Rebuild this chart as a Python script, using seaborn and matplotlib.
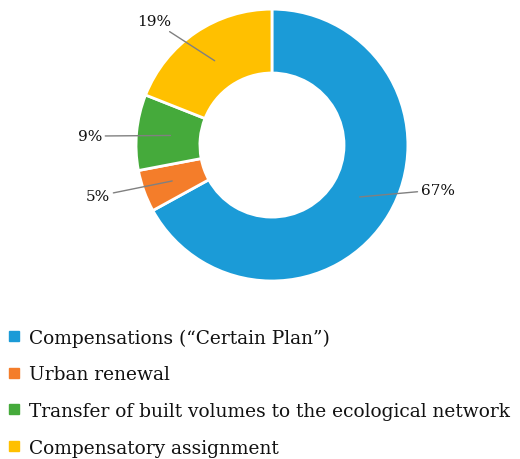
import matplotlib
matplotlib.use("Agg")
import matplotlib.pyplot as plt
from matplotlib.lines import Line2D
import seaborn as sns
import numpy as np

categories = ["Compensations (\u201cCertain Plan\u201d)", "Urban renewal",
              "Transfer of built volumes to the ecological network",
              "Compensatory assignment"]
shares = [67, 5, 9, 19]
colors = ["#1B9BD7", "#F47D2A", "#45AA3B", "#FFC000"]

sns.set_style("white")
plt.rcParams["font.family"] = ["DejaVu Serif"]

fig = plt.figure(figsize=(5.2, 4.6), dpi=100)
ax = fig.add_axes([0.2615, 0.387, 0.523, 0.591])

wedges, _ = ax.pie(shares, colors=colors, startangle=90, counterclock=False,
                   radius=1.0, wedgeprops=dict(width=0.47, edgecolor="white", linewidth=2))
ax.set_xlim(-1, 1)
ax.set_ylim(-1, 1)
ax.set_aspect("equal")
ax.axis("off")

# label offsets (text position in data units), per slice
text_pos = [(1.22, -0.33), (-1.28, -0.375), (-1.34, 0.066), (-0.87, 0.91)]
anchor_r = [0.75, 0.78, 0.75, 0.75]
for w, v, tp, r in zip(wedges, shares, text_pos, anchor_r):
    ang = np.deg2rad((w.theta1 + w.theta2) / 2)
    xy = (r * np.cos(ang), r * np.sin(ang))
    ax.annotate(f"{v}%", xy=xy, xytext=tp, ha="center", va="center",
                fontsize=11, color="#111111", annotation_clip=False,
                arrowprops=dict(arrowstyle="-", color="#808080", lw=1.0,
                                shrinkA=0, shrinkB=0))

handles = [Line2D([0], [0], marker="s", linestyle="none", markersize=6.5,
                  markerfacecolor=c, markeredgecolor=c) for c in colors]
fig.legend(handles, categories, loc="upper left", bbox_to_anchor=(0.0, 0.30),
           frameon=False, fontsize=13.4, handlelength=0.7, handletextpad=0.45,
           labelspacing=1.0, borderaxespad=0, labelcolor="#111111")

fig.savefig("out.png", dpi=100)
